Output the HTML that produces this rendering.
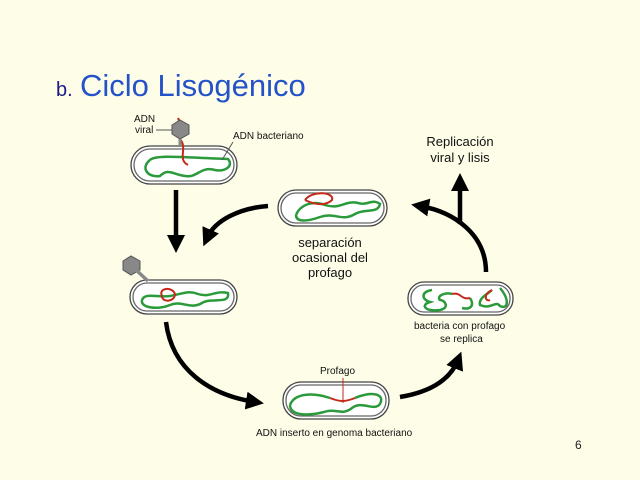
<!DOCTYPE html>
<html><head><meta charset="utf-8"><style>
body{margin:0;background:#fdfde8;}
svg{display:block}
text{font-family:"Liberation Sans",sans-serif;}
</style></head><body>
<svg width="640" height="480" viewBox="0 0 640 480">
<rect width="640" height="480" fill="#fdfde8"/>
<text x="56" y="96" font-size="20" fill="#1a1a8a">b.</text>
<text x="80" y="96" font-size="31" fill="#2452c8">Ciclo Lisogénico</text>
<text x="575" y="449" font-size="12" fill="#222" font-family="Liberation Serif">6</text>
<defs>
<marker id="ah" markerWidth="4" markerHeight="4" refX="2" refY="2" orient="auto" markerUnits="strokeWidth">
<path d="M0,0 L4,2 L0,4 Z" fill="#000"/></marker>
</defs>
<g fill="#fff" stroke="#444" stroke-width="1.3">
<rect x="131" y="146" width="106" height="38" rx="19"/><rect x="134" y="149" width="100" height="32" rx="16" fill="#fff" stroke="#666"/>
<rect x="278" y="190" width="109" height="36" rx="18"/><rect x="281" y="193" width="103" height="30" rx="15" stroke="#666"/>
<rect x="130" y="280" width="107" height="34" rx="17"/><rect x="133" y="283" width="101" height="28" rx="14" stroke="#666"/>
<rect x="283" y="382" width="106" height="37" rx="18"/><rect x="286" y="385" width="100" height="31" rx="15" stroke="#666"/>
<rect x="408" y="282" width="105" height="33" rx="16"/><rect x="411" y="285" width="99" height="27" rx="13" stroke="#666"/>
</g>
<g fill="none" stroke="#2a9a3a" stroke-width="2.5">
<path d="M150,160 C156,154 190,158 228,159 C234,166 225,172 215,170 C200,166 198,178 185,176 C172,174 168,168 160,176 C148,178 140,168 150,160"/>
<path d="M296,215 C300,205 312,200 325,205 C340,210 345,200 358,203 C368,206 372,198 380,204 C378,214 365,208 355,214 C342,222 335,212 320,217 C306,222 296,222 296,215"/>
<path d="M142,300 C145,292 158,298 170,296 C182,294 188,290 198,294 C210,298 215,290 228,293 C230,305 212,297 202,303 C190,310 182,300 170,305 C158,310 140,308 142,300"/>
<path d="M290,405 C295,392 315,393 330,398 M355,398 C368,392 386,392 380,404 C374,412 362,400 352,408 C342,416 336,408 324,412 C308,416 290,416 290,405"/>
<path d="M432,290 C420,292 422,300 430,302 C420,305 425,312 440,310 C450,308 445,300 440,300 C436,296 445,292 452,294 M470,298 C475,306 470,310 462,308 M500,288 C510,300 508,310 500,306 C495,300 492,310 480,305 C478,298 488,294 492,290"/>
</g>
<g fill="none" stroke="#c42a1a" stroke-width="2">
<path d="M178,118 C184,130 176,135 182,142 C186,150 178,160 188,165"/>
<path d="M305,200 C312,190 335,192 332,200 C326,206 315,205 305,200"/>
<path d="M162,296 C158,288 172,286 175,294 C175,302 162,303 162,296"/>
<path d="M330,398 C340,402 345,402 355,398"/>
<path d="M452,294 C462,292 460,300 470,298 M492,290 C482,295 486,302 490,300"/>
</g>
<polygon points="172,125 180,120 189,125 189,134 180,139 172,134" fill="#888" stroke="#555"/>
<line x1="180" y1="139" x2="180" y2="147" stroke="#888" stroke-width="3"/>
<polygon points="123,261 131,256 140,261 140,270 131,275 123,270" fill="#888" stroke="#555"/>
<line x1="136" y1="270" x2="148" y2="281" stroke="#888" stroke-width="3.5"/>
<line x1="343" y1="378" x2="343" y2="403" stroke="#c42a1a" stroke-width="1"/>
<line x1="156" y1="130" x2="172" y2="130" stroke="#555" stroke-width="1"/>
<line x1="233" y1="142" x2="222" y2="160" stroke="#555" stroke-width="1"/>
<g font-size="10" fill="#111">
<text x="134" y="122">ADN</text><text x="135" y="133">viral</text>
<text x="233" y="139">ADN bacteriano</text>
<text x="320" y="374">Profago</text>
<text x="256" y="436">ADN inserto en genoma bacteriano</text>
<text x="414" y="329">bacteria con  profago</text>
<text x="440" y="342">se replica</text>
</g>
<g font-size="13" fill="#111" text-anchor="middle">
<text x="330" y="247">separación</text><text x="330" y="262">ocasional del</text><text x="330" y="277">profago</text>
<text x="460" y="146">Replicación</text><text x="460" y="162">viral y lisis</text>
</g>
<g fill="none" stroke="#000" stroke-width="4.5">
<line x1="176" y1="190" x2="176" y2="244" marker-end="url(#ah)"/>
<path d="M268,206 C240,208 215,220 207,238" marker-end="url(#ah)"/>
<path d="M166,322 C172,370 210,395 255,402" marker-end="url(#ah)"/>
<path d="M400,397 C430,392 450,380 458,360" marker-end="url(#ah)"/>
<path d="M486,272 C486,235 455,212 420,206" marker-end="url(#ah)"/>
<line x1="460" y1="224" x2="460" y2="182" marker-end="url(#ah)"/>
</g>
</svg>
</body></html>
